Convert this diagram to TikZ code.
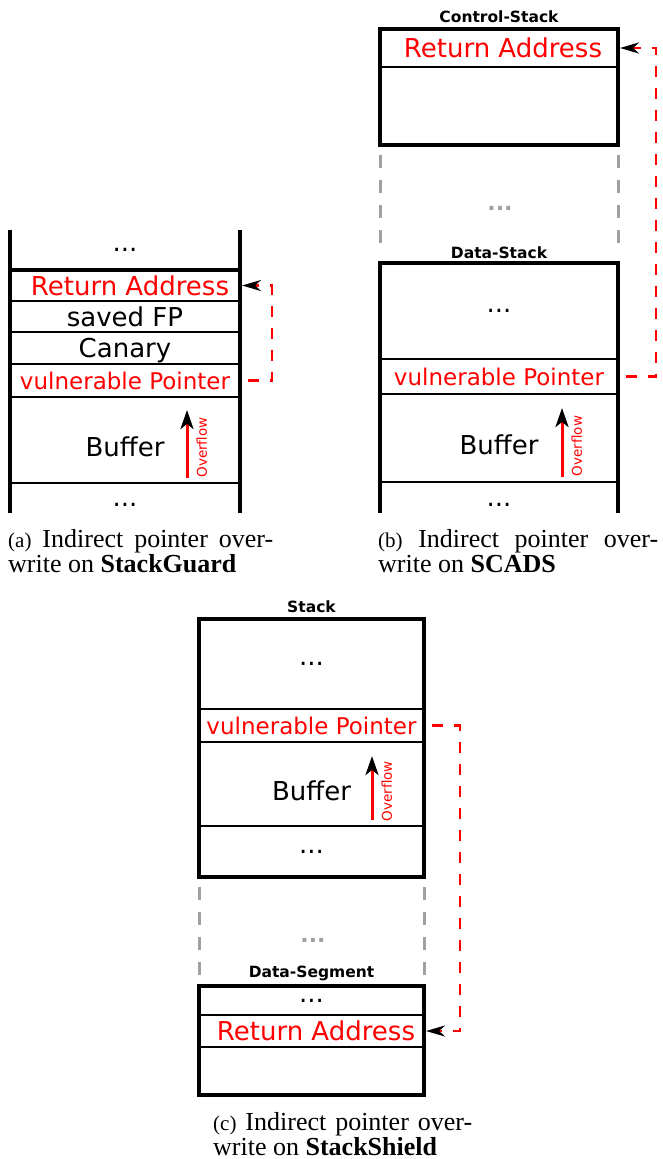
\documentclass[tikz,border=0pt]{standalone}
\usepackage{fontspec}
\setmainfont{Liberation Serif}
\setsansfont{DejaVu Sans}
\usetikzlibrary{arrows.meta,positioning}
\definecolor{ptrred}{HTML}{FF0000}
\definecolor{gapgray}{HTML}{A0A0A0}
\newcommand{\cellfont}{\sffamily\fontsize{26}{30}\selectfont}
\newcommand{\ptrfont}{\sffamily\fontsize{23}{27}\selectfont}
\newcommand{\lblfont}{\sffamily\bfseries\fontsize{15.5}{18}\selectfont}
\newcommand{\flowfont}{\sffamily\fontsize{13.5}{15}\selectfont}
\newcommand{\capfont}{\rmfamily\fontsize{26}{25}\selectfont}
\newcommand{\subfont}{\fontsize{21}{25}\selectfont}

\begin{document}
\begin{tikzpicture}[x=1pt, y=1pt,
    cell/.style={inner sep=0pt, outer sep=0pt, minimum width=#1},
    dotcell/.style={cell=#1, font=\cellfont},
    dotbox/.style={dotcell=#1, draw, line width=1.3pt},
    box/.style={dotbox=#1, text height=19pt, text depth=0pt},
    retcell/.style={box=#1, text=ptrred},
    ptrcell/.style={box=#1, font=\ptrfont, text=ptrred, text height=17pt},
    bufcell/.style={box=#1, text height=33pt},
    frame/.style={line width=3.2pt},
    gapline/.style={gapgray, line width=3pt, dash pattern=on 13pt off 12pt},
    gapdots/.style={text=gapgray, font=\sffamily\bfseries\fontsize{22}{25}\selectfont},
    lbl/.style={inner sep=0pt, font=\lblfont},
    link/.style={ptrred, line width=2.6pt, dash pattern=on 11pt off 11pt, shorten <=8pt, shorten >=2pt,
      -{Stealth[black,length=19pt,width=11pt,inset=6pt]}},
    overflow/.style={ptrred, line width=3pt, -{Stealth[black,length=19pt,width=13pt,inset=5pt]}},
    flowlbl/.style={anchor=north, rotate=90, inner sep=8pt, font=\flowfont, text=ptrred},
    caption/.style={anchor=base west, inner sep=0pt, align=justify, font=\capfont}]
  \useasboundingbox (0,0) rectangle (662,-1159);

  % (a) StackGuard
  \node[dotcell=230pt, minimum height=40pt] (atop) at (125,-250) {...};
  \node[retcell=230pt, minimum height=31pt, below=0pt of atop] (aret) {\hspace*{10pt}Return Address};
  \node[box=230pt, minimum height=31pt, below=0pt of aret] (afp) {saved FP};
  \node[box=230pt, minimum height=32pt, below=0pt of afp] (acan) {Canary};
  \node[ptrcell=230pt, minimum height=33pt, below=0pt of acan] (aptr) {vulnerable Pointer};
  \node[bufcell=230pt, minimum height=86pt, below=0pt of aptr] (abuf) {Buffer};
  \node[dotcell=230pt, minimum height=30pt, text height=17pt, below=0pt of abuf] (abot) {...};
  \draw[frame] (atop.north west) -- (abot.south west);
  \draw[frame] (atop.north east) -- (abot.south east);
  \draw[frame] (aret.north west) -- (aret.north east);
  \draw[overflow] ([xshift=62pt,yshift=5pt]abuf.south) -- ([xshift=62pt,yshift=73pt]abuf.south)
    node[flowlbl, pos=0.45] {Overflow};
  \draw[link] (aptr.east) -- ++(32,0) |- (aret.east);
  \node[caption, text width=265pt] (capa) at (8,-547)
    {{\subfont(a)} Indirect pointer over-\linebreak write on \textbf{StackGuard}};

  % (b) SCADS
  \node[retcell=238pt, minimum height=38pt] (cret) at (499,-48) {\hspace*{8pt}Return Address};
  \node[box=238pt, minimum height=78pt, below=0pt of cret] (cmem) {};
  \draw[frame] (cret.north west) rectangle (cmem.south east);
  \node[lbl, above=6pt of cret] (clbl) {Control-Stack};
  \node[dotbox=238pt, minimum height=96pt] (dtop) at (499,-311) {...};
  \node[ptrcell=238pt, minimum height=35pt, below=0pt of dtop] (dptr) {vulnerable Pointer};
  \node[bufcell=238pt, minimum height=88pt, below=0pt of dptr] (dbuf) {Buffer};
  \node[dotcell=238pt, minimum height=31pt, text height=17pt, below=0pt of dbuf] (dbot) {...};
  \draw[frame] (dbot.south west) -- (dtop.north west) -- (dtop.north east) -- (dbot.south east);
  \node[lbl, above=4pt of dtop] (dlbl) {Data-Stack};
  \draw[gapline] ([yshift=-10pt]cmem.south west) -- ([yshift=13pt]dtop.north west);
  \draw[gapline] ([yshift=-10pt]cmem.south east) -- ([yshift=13pt]dtop.north east);
  \node[gapdots] (bgap) at (500,-208) {...};
  \draw[overflow] ([xshift=63pt,yshift=5pt]dbuf.south) -- ([xshift=63pt,yshift=74pt]dbuf.south)
    node[flowlbl, pos=0.45] {Overflow};
  \draw[link] (dptr.east) -- ++(38,0) |- (cret.east);
  \node[caption, text width=280pt] (capb) at (378,-547)
    {{\subfont(b)} Indirect pointer over-\linebreak write on \textbf{SCADS}};

  % (c) StackShield
  \node[dotbox=225pt, minimum height=90pt] (stop) at (311.5,-664) {...};
  \node[ptrcell=225pt, minimum height=33pt, below=0pt of stop] (sptr) {vulnerable Pointer};
  \node[bufcell=225pt, minimum height=84pt, below=0pt of sptr] (sbuf) {Buffer};
  \node[dotbox=225pt, minimum height=51pt, below=0pt of sbuf] (sbot) {...};
  \draw[frame] (stop.north west) rectangle (sbot.south east);
  \node[lbl, above=6pt of stop] (slbl) {Stack};
  \node[dotbox=225pt, minimum height=29pt] (gdots) at (311.5,-1000.5) {...};
  \node[retcell=225pt, minimum height=32pt, below=0pt of gdots] (gret) {\hspace*{9pt}Return Address};
  \node[box=225pt, minimum height=48pt, below=0pt of gret] (gmem) {};
  \draw[frame] (gdots.north west) rectangle (gmem.south east);
  \node[lbl, above=5pt of gdots] (glbl) {Data-Segment};
  \draw[gapline] ([yshift=-10pt]sbot.south west) -- ([yshift=6pt]gdots.north west);
  \draw[gapline] ([yshift=-10pt]sbot.south east) -- ([yshift=6pt]gdots.north east);
  \node[gapdots] (cgap) at (313,-940) {...};
  \draw[overflow] ([xshift=60.5pt,yshift=6pt]sbuf.south) -- ([xshift=60.5pt,yshift=70pt]sbuf.south)
    node[flowlbl, pos=0.45] {Overflow};
  \draw[link] (sptr.east) -- ++(36,0) |- (gret.east);
  \node[caption, text width=259pt] (capc) at (213,-1130)
    {{\subfont(c)} Indirect pointer over-\linebreak write on \textbf{StackShield}};
\end{tikzpicture}
\end{document}
